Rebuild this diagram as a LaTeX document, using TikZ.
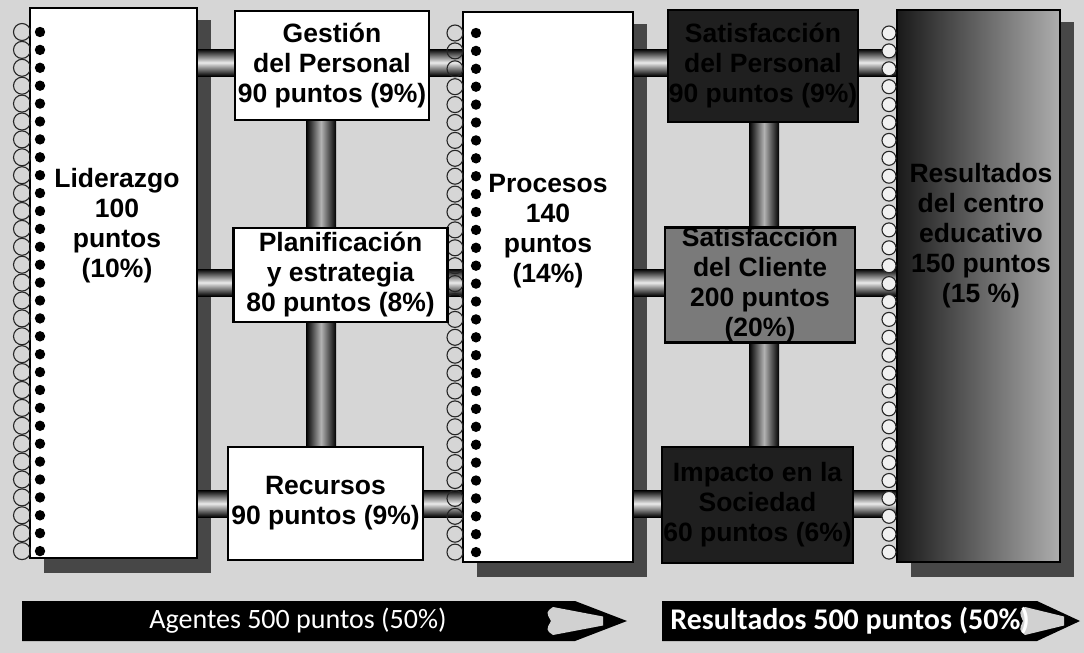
\documentclass[tikz,border=0pt]{standalone}
\usepackage{fontspec}
\setmainfont{Liberation Sans}
\newfontfamily\bannerfont{Carlito}
\usetikzlibrary{calc}
\newcommand\boxfont{\fontsize{26.5}{30}\selectfont\bfseries}
\begin{document}
\begin{tikzpicture}[x=1pt,y=-1pt,
  nb/.style={draw=black, line width=2.5pt, fill=white, inner sep=0pt},
  wbox/.style={draw=black, line width=2.5pt, fill=white, inner sep=0pt, align=center, font=\boxfont},
  dbox/.style={draw=black, line width=2.5pt, fill=black!88, text=black, inner sep=0pt, align=center, font=\boxfont},
  gbox/.style={draw=black, line width=2.5pt, fill=black!52, text=black, inner sep=0pt, align=center, font=\boxfont},
  txt/.style={align=center, font=\boxfont, inner sep=0pt},
  ring/.style={draw=black!85, line width=1.1pt},
  holes/.style={fill=black},
  shadowfill/.style={fill=black!72},
  htube/.style={top color=black, bottom color=black, middle color=black!8},
  vtube/.style={left color=black, right color=black, middle color=black!30},
  banner/.style={fill=black},
  wood/.style={fill=black!18},
]
\useasboundingbox (0,0) rectangle (1084,653);
\fill[black!16] (0,0) rectangle (1084,653);

% centres of the three notebooks
\path
  (113.5,283) coordinate (lidc)
  (548,287)   coordinate (procc)
  (978.5,286) coordinate (resc);

% shadows of the three notebooks
\fill[shadowfill] ($(lidc)+(-83.5+14,-275+12)$) rectangle ($(lidc)+(83.5+14,275+15)$);
\fill[shadowfill] ($(procc)+(-85+14,-275+12)$) rectangle ($(procc)+(85+14,275+15)$);
\fill[shadowfill] ($(resc)+(-81.5+14,-276+12)$) rectangle ($(resc)+(81.5+14,276+15)$);

% outlines used to place the tubes
\node[minimum width=167pt, minimum height=550pt, inner sep=0pt, outer sep=0pt] (lid) at (lidc) {};
\node[minimum width=170pt, minimum height=550pt, inner sep=0pt, outer sep=0pt] (proc) at (procc) {};
\node[minimum width=163pt, minimum height=552pt, inner sep=0pt, outer sep=0pt] (res) at (resc) {};
\node[minimum width=194pt, minimum height=109pt, inner sep=0pt, outer sep=0pt] (gestA) at (332,65.5) {};
\node[minimum width=214pt, minimum height=94pt, inner sep=0pt, outer sep=0pt] (planA) at (340.5,275) {};
\node[minimum width=195pt, minimum height=113pt, inner sep=0pt, outer sep=0pt] (recA) at (325.5,503.5) {};
\node[minimum width=190pt, minimum height=112pt, inner sep=0pt, outer sep=0pt] (satpA) at (763,66) {};
\node[minimum width=190pt, minimum height=110pt, inner sep=0pt, outer sep=0pt] (cliA) at (760,285) {};
\node[minimum width=191pt, minimum height=116pt, inner sep=0pt, outer sep=0pt] (impA) at (757.5,505) {};

% horizontal tubes, three rows
\shade[htube] (lid.east |- 0,49)   rectangle (gestA.west |- 0,76);
\shade[htube] (lid.east |- 0,269)  rectangle (planA.west |- 0,296);
\shade[htube] (lid.east |- 0,490)  rectangle (recA.west |- 0,517);
\shade[htube] (gestA.east |- 0,49) rectangle (proc.west |- 0,76);
\shade[htube] (planA.east |- 0,269) rectangle (proc.west |- 0,296);
\shade[htube] (recA.east |- 0,490) rectangle (proc.west |- 0,517);
\shade[htube] (proc.east |- 0,49)  rectangle (satpA.west |- 0,76);
\shade[htube] (proc.east |- 0,269) rectangle (cliA.west |- 0,296);
\shade[htube] (proc.east |- 0,490) rectangle (impA.west |- 0,517);
\shade[htube] (satpA.east |- 0,49) rectangle (res.west |- 0,76);
\shade[htube] (cliA.east |- 0,269) rectangle (res.west |- 0,296);
\shade[htube] (impA.east |- 0,490) rectangle (res.west |- 0,517);

% vertical tubes
\shade[vtube] (gestA.south -| 306,0) rectangle (planA.north -| 336,0);
\shade[vtube] (planA.south -| 306,0) rectangle (recA.north -| 336,0);
\shade[vtube] (satpA.south -| 749,0) rectangle (cliA.north -| 779,0);
\shade[vtube] (cliA.south -| 749,0) rectangle (impA.north -| 779,0);

% notebooks
\node[nb, minimum width=167pt, minimum height=550pt] (lidbox) at (lidc) {};
\node[nb, minimum width=170pt, minimum height=550pt] (procbox) at (procc) {};
\node[draw=black, line width=2.5pt, inner sep=0pt, left color=black!90, right color=black!32,
      minimum width=163pt, minimum height=552pt] (resbox) at (resc) {};

% spiral binding
\foreach \k in {0,...,29} {
  \draw[ring] (22,{32+17.9*\k}) circle (8.5pt);
  \fill[holes] (40,{32+17.9*\k}) circle (5.2pt);
  \draw[ring] (455,{33+17.9*\k}) circle (8pt);
  \fill[holes] (476,{33+17.9*\k}) circle (5.2pt);
  \draw[ring, fill=black!6] (889,{33+17.9*\k}) circle (7pt);
}

% notebook texts
\node[txt] (lidtxt) at (117,226) {Liderazgo\\100\\puntos\\(10\%)};
\node[txt] (proctxt) at (548,231) {Procesos\\140\\puntos\\(14\%)};
\node[txt] (restxt) at (981,236) {Resultados\\del centro\\educativo\\150 puntos\\(15 \%)};

% criterion boxes
\node[wbox, minimum width=194pt, minimum height=109pt] (gest) at (gestA) {Gestión\\del Personal\\90 puntos (9\%)};
\node[wbox, minimum width=214pt, minimum height=94pt] (plan) at (planA) {Planificación\\y estrategia\\80 puntos (8\%)};
\node[wbox, minimum width=195pt, minimum height=113pt] (rec) at (recA) {Recursos\\90 puntos (9\%)};
\node[dbox, minimum width=190pt, minimum height=112pt] (satp) at (satpA) {Satisfacción\\del Personal\\90 puntos (9\%)};
\node[gbox, minimum width=190pt, minimum height=110pt] (cli) at (cliA) {Satisfacción\\del Cliente\\200 puntos\\(20\%)};
\node[dbox, minimum width=191pt, minimum height=116pt] (imp) at (impA) {Impacto en la\\Sociedad\\60 puntos (6\%)};

% pencil banners
\fill[banner] (22,601) -- (575,601) -- (627,621) -- (575,641) -- (22,641) -- cycle;
\fill[wood] (553,607) -- (603,616.5) -- (603,625.5) -- (553,635)
  .. controls (546,630) .. (551,621) .. controls (546,612) .. (553,607) -- cycle;
\node[font=\bannerfont\fontsize{28}{30}\selectfont, text=white] (agentes) at (298,621) {Agentes 500 puntos (50\%)};

\fill[banner] (662,601) -- (1037,601) -- (1080,621) -- (1037,641) -- (662,641) -- cycle;
\fill[wood] (1025,607) -- (1064,616.5) -- (1064,625.5) -- (1025,635)
  .. controls (1019,630) .. (1023,621) .. controls (1019,612) .. (1025,607) -- cycle;
\node[font=\bannerfont\fontsize{30}{32}\selectfont\bfseries, text=white] (resultados) at (850,621) {Resultados 500 puntos (50\%)};
\end{tikzpicture}
\end{document}
